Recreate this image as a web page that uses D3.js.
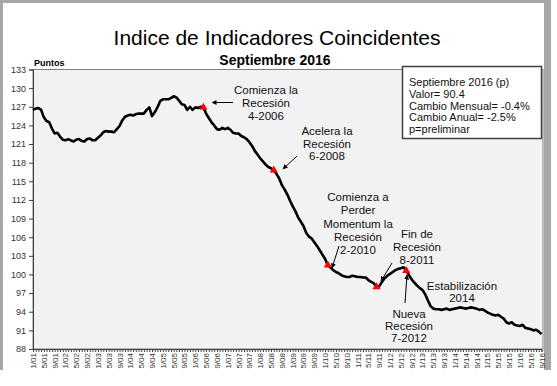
<!DOCTYPE html>
<html><head><meta charset="utf-8">
<script src="https://cdn.jsdelivr.net/npm/d3@7"></script>
<style>body{margin:0;background:#fff}svg{display:block;font-family:Arial,"Liberation Sans",sans-serif}</style>
</head><body><svg id="c" width="557" height="386"></svg>
<script>
// Monthly index, Jan 2001 .. Sep 2016
const values = [
126.5,126.7,126.8,126.5,125.3,124.7,124.5,123.5,122.7,122.8,122.2,121.7,
121.6,121.8,121.6,121.4,121.7,121.8,121.5,121.4,121.8,121.9,121.6,121.6,
122.0,122.4,122.9,123.1,123.0,123.0,122.9,123.4,123.9,124.8,125.4,125.6,
125.7,125.6,125.8,125.9,125.9,125.9,126.5,126.9,125.5,126.1,126.9,127.9,
128.2,128.2,128.2,128.4,128.7,128.5,128.0,127.4,127.3,126.5,127.0,126.5,
126.9,126.8,127.0,126.9,125.9,125.2,124.5,124.0,123.4,123.3,123.6,123.4,
123.6,123.3,122.8,122.7,122.7,122.3,122.1,121.8,121.3,120.7,119.9,119.3,
118.7,118.2,117.7,117.3,117.1,116.8,116.2,115.5,114.4,113.7,112.9,111.9,
111.0,110.2,109.2,108.5,107.8,106.7,106.1,105.8,105.2,104.6,103.9,103.2,
102.5,101.5,101.1,100.7,100.4,100.2,99.9,99.7,99.6,99.6,99.8,99.7,
99.6,99.6,99.5,99.5,99.1,98.8,98.6,98.0,98.1,98.8,99.4,99.8,
100.1,100.4,100.7,100.9,101.0,101.15,100.6,99.9,99.2,98.7,98.2,97.8,
97.5,96.8,95.8,94.9,94.5,94.4,94.4,94.3,94.4,94.5,94.3,94.4,
94.5,94.6,94.7,94.6,94.5,94.6,94.7,94.6,94.5,94.3,94.4,94.2,
93.9,93.7,93.5,93.4,93.5,93.2,92.9,92.3,92.1,92.3,91.9,91.8,
91.7,91.9,91.4,91.3,91.2,91.0,91.1,90.8,90.4];
const markerIdx = [63, 89, 109, 127, 138];
const yTicks = [88,91,94,97,100,103,106,109,112,115,118,121,124,127,130,133];
const xLabels = ["1/01","5/01","9/01","1/02","5/02","9/02","1/03","5/03","9/03","1/04","5/04","9/04",
"1/05","5/05","9/05","1/06","5/06","9/06","1/07","5/07","9/07","1/08","5/08","9/08",
"1/09","5/09","9/09","1/10","5/10","9/10","1/11","5/11","9/11","1/12","5/12","9/12",
"1/13","5/13","9/13","1/14","5/14","9/14","1/15","5/15","9/15","1/16","5/16","9/16"];
const infoLines = ["Septiembre 2016 (p)","Valor= 90.4","Cambio Mensual= -0.4%","Cambio Anual= -2.5%","p=preliminar"];
const notes = [
 {lines:["Comienza la","Recesión","4-2006"], cx:266, y0:93.5, dy:13, arrow:[233,102.5,212,102.5]},
 {lines:["Acelera la","Recesión","6-2008"], cx:327, y0:135, dy:12.7, arrow:[297,156,283,169]},
 {lines:["Comienza a","Perder","Momentum la","Recesión","2-2010"], cx:358, y0:201, dy:13.3, arrow:[339,246,332,268]},
 {lines:["Fin de","Recesión","8-2011"], cx:417, y0:238, dy:13, arrow:[392,263,381,281]},
 {lines:["Nueva","Recesión","7-2012"], cx:409, y0:317.5, dy:12.3, arrow:[405,303,407,275]},
 {lines:["Estabilización","2014"], cx:462, y0:289.5, dy:12.5, arrow:null}
];

const svg = d3.select("#c");
const L=33, R=543, T=69.5, B=349;
const x = d3.scaleLinear().domain([0, values.length-1]).range([L, 541.5]);
const y = d3.scaleLinear().domain([88,133]).range([B, T]);

// frame
svg.append("path").attr("d","M1.5,370 V1.5 H548").attr("fill","none").attr("stroke","#a6a6a6").attr("stroke-width",3);
svg.append("line").attr("x1",547.5).attr("x2",547.5).attr("y1",0).attr("y2",370).attr("stroke","#a6a6a6").attr("stroke-width",7);

// titles
svg.append("text").attr("x",277).attr("y",45).attr("text-anchor","middle").attr("font-size",21).attr("fill","#000").text("Indice de Indicadores Coincidentes");
svg.append("text").attr("x",275).attr("y",65).attr("text-anchor","middle").attr("font-size",14).attr("font-weight","bold").text("Septiembre 2016");
svg.append("text").attr("x",34).attr("y",66).attr("font-size",9).attr("font-weight","bold").text("Puntos");

// plot area
svg.append("rect").attr("x",L).attr("y",T).attr("width",R-L).attr("height",B-T).attr("fill","#f2f2f2").attr("stroke","#808080").attr("stroke-width",1);

// y axis
const ya = svg.append("g").attr("transform",`translate(${L},0)`).call(d3.axisLeft(y).tickValues(yTicks).tickSize(4).tickPadding(3));
ya.select(".domain").attr("stroke","#404040");
ya.selectAll("line").attr("stroke","#404040");
ya.selectAll("text").attr("font-size",9).attr("fill","#333").attr("font-family","Arial, Liberation Sans, sans-serif");

// x axis, monthly ticks
const xa = svg.append("g").attr("transform",`translate(0,${B})`).call(d3.axisBottom(x).tickValues(d3.range(values.length)).tickSize(3).tickFormat(""));
xa.select(".domain").attr("stroke","#404040");
xa.selectAll("line").attr("stroke","#404040");
svg.append("g").selectAll("text").data(xLabels).join("text")
  .attr("transform",(d,i)=>`translate(${x(i*4)+3},${B+4}) rotate(-90)`)
  .attr("text-anchor","end").attr("font-size",8).attr("fill","#333").text(d=>d);

// line
svg.append("path").datum(values).attr("fill","none").attr("stroke","#000").attr("stroke-width",2.6).attr("stroke-linejoin","round")
  .attr("d", d3.line().x((d,i)=>x(i)).y(d=>y(d)));

// markers
svg.append("g").selectAll("path").data(markerIdx).join("path")
  .attr("transform",i=>`translate(${x(i)},${y(values[i])})`)
  .attr("d", d3.symbol().type(d3.symbolTriangle).size(28)).attr("fill","#ff0000");

// annotations
const defs = svg.append("defs");
defs.append("marker").attr("id","ah").attr("viewBox","0 0 10 10").attr("refX",9).attr("refY",5)
  .attr("markerWidth",5).attr("markerHeight",5).attr("orient","auto")
  .append("path").attr("d","M0,0 L10,5 L0,10 z").attr("fill","#000");
notes.forEach(n=>{
  const t = svg.append("text").attr("text-anchor","middle").attr("font-size",11.5).attr("fill","#111");
  n.lines.forEach((s,k)=>t.append("tspan").attr("x",n.cx).attr("y",n.y0+k*n.dy).text(s));
  if(n.arrow){
    svg.append("line").attr("x1",n.arrow[0]).attr("y1",n.arrow[1]).attr("x2",n.arrow[2]).attr("y2",n.arrow[3])
      .attr("stroke","#000").attr("stroke-width",1).attr("marker-end","url(#ah)");
  }
});

// info box
svg.append("rect").attr("x",402.5).attr("y",66.5).attr("width",139).attr("height",72).attr("fill","#fff").attr("stroke","#404040").attr("stroke-width",1.5);
const it = svg.append("text").attr("font-size",11).attr("fill","#111");
infoLines.forEach((s,k)=>it.append("tspan").attr("x",409).attr("y",86+k*11.8).text(s));
</script></body></html>
